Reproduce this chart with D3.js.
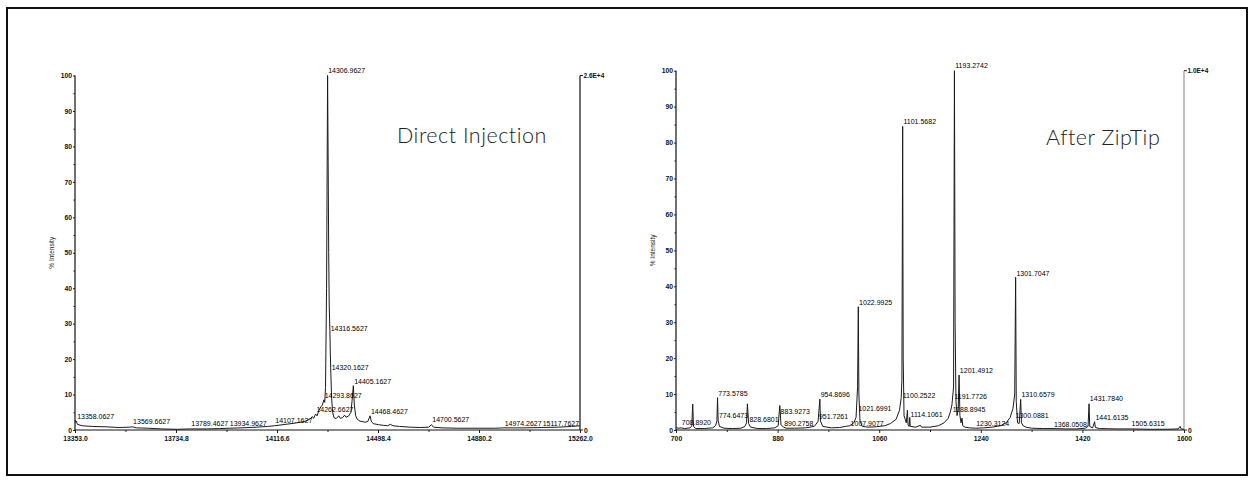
<!DOCTYPE html>
<html><head><meta charset="utf-8">
<script src="https://cdn.jsdelivr.net/npm/d3@7"></script>
<style>
html,body{margin:0;padding:0;background:#fff;}
svg{display:block;}
</style></head>
<body><svg id="c" width="1253" height="483"></svg>
<script>
// ---------- data ----------
const leftTitle = "Direct Injection";
const rightTitle = "After ZipTip";
const yLabel = "% Intensity";
const leftScaleMax = "2.6E+4";
const rightScaleMax = "1.0E+4";

const leftXTicks = [13353.0, 13734.8, 14116.6, 14498.4, 14880.2, 15262.0];
const leftXMinor = [13543.9, 13925.7, 14307.5, 14689.3, 15071.1];
const rightXTicks = [700, 880, 1060, 1240, 1420, 1600];
const rightXMinor = [790, 970, 1150, 1330, 1510];
const yTicks = [0, 10, 20, 30, 40, 50, 60, 70, 80, 90, 100];
const yMinor = [5, 15, 25, 35, 45, 55, 65, 75, 85, 95];

// spectrum trace: [m/z, % intensity]
const leftTrace = [
 [13353,2.8],[13356,2.2],[13358.06,2.5],[13362,1.6],[13380,1.2],[13420,1.0],[13470,0.9],[13520,0.7],
 [13560,0.8],[13569.66,0.9],[13585,0.6],[13630,0.5],[13680,0.3],[13740,0.2],[13789.46,0.3],[13850,0.3],
 [13900,0.4],[13934.96,0.5],[13980,0.6],[14040,0.8],[14080,1.0],[14107.16,1.2],[14150,1.6],[14190,2.0],
 [14220,2.4],[14240,3.0],[14250,3.8],[14255,3.3],[14262.66,4.5],[14268,4.0],[14275,5.5],[14282,6.5],
 [14288,7.0],[14293.86,8.5],[14297,7.8],[14300,12],[14304,40],[14307.8,100],[14310,75],[14312,50],
 [14314,35],[14316.56,28],[14318,22],[14320.16,16],[14323,9],[14327,5],[14332,3.5],[14340,3.2],
 [14350,4],[14356,3.3],[14365,3.5],[14372,4.2],[14378,3.6],[14388,4],[14396,5],[14400,8],
 [14405.16,12.5],[14409,7],[14414,4],[14420,3],[14430,2.5],[14450,2.2],[14460,2.4],[14468.46,4],
 [14473,2.5],[14480,1.8],[14500,1.5],[14520,1.3],[14535,1.2],[14545,1.6],[14555,1.2],[14580,1.0],
 [14620,0.8],[14660,0.7],[14690,0.8],[14700.56,1.5],[14708,0.8],[14740,0.6],[14800,0.5],[14880,0.5],
 [14940,0.5],[14974.26,0.6],[15050,0.6],[15117.76,0.7],[15180,0.8],[15230,1.0],[15262,1.2]
];
// peak labels: [m/z, % intensity at label]
const leftLabels = [
 [13358.0627,2.5],[13569.6627,0.85],[13789.4627,0.3],[13934.9627,0.5],[14107.1627,1.2],
 [14262.6627,4.3],[14293.8627,8.2],[14306.9627,100],[14316.5627,27.3],[14320.1627,16.3],
 [14405.1627,12.3],[14468.4627,3.7],[14700.5627,1.5],[14974.2627,0.3],[15117.7627,0.3]
];

const rightTrace = [
 [700,0.6],[705,0.5],[708.89,0.6],[715,0.4],[725,0.6],[728,1.2],[729.6,7.2],[731,1.0],[735,0.4],
 [750,0.4],[765,0.6],[770,1.2],[772.5,2.5],[773.58,9],[774.65,2.7],[777,1.0],[785,0.5],[800,0.4],
 [815,0.5],[822,1.0],[825,2.0],[826.5,7.3],[828.68,1.8],[832,0.8],[845,0.4],[860,0.4],[875,0.6],
 [881,1.2],[883.93,6.8],[886,1.5],[890.28,0.8],[895,0.5],[910,0.5],[930,0.6],[945,1.0],[951.73,2.4],
 [954.87,8.6],[956,2.5],[960,1.0],[975,0.6],[990,0.7],[1000,1.0],[1007.91,1.2],[1015,2.0],[1019,3.5],
 [1021.7,12],[1022.99,34.3],[1024,10],[1026,2.5],[1030,1.0],[1040,0.8],[1055,0.9],[1070,1.2],
 [1080,1.8],[1090,3.0],[1096,5.5],[1099,9],[1100.25,14],[1101.57,84.5],[1102.5,20],[1104,4],
 [1106,3.0],[1108,2.0],[1110,5.5],[1111,1.5],[1113,1.0],[1114.11,3.5],[1115,1.0],[1125,0.8],
 [1133,1.3],[1135,0.8],[1150,0.8],[1165,1.2],[1175,2.0],[1182,3.2],[1186,5],[1188.89,7],
 [1191.77,12],[1193.27,100],[1194.5,30],[1196,8],[1198,4],[1200,6],[1201.49,15.3],[1203,4],
 [1205,2],[1206.7,3.3],[1208,1.2],[1212,0.8],[1220,0.6],[1230.31,0.5],[1245,0.6],[1260,0.8],
 [1275,1.2],[1285,2.0],[1292,3.5],[1297,6],[1300.09,10],[1301.7,42.5],[1302.8,8],[1305,2],
 [1308,1.8],[1310.66,8.5],[1312,2],[1315,1.2],[1320,0.8],[1330,0.5],[1350,0.4],[1368.05,0.4],
 [1390,0.3],[1410,0.3],[1425,0.5],[1430,1],[1431.78,7.3],[1433,1],[1438,0.6],[1441.61,2.3],
 [1443,0.7],[1450,0.4],[1480,0.3],[1505.63,0.3],[1540,0.2],[1570,0.2],[1590,0.3],[1593,1.0],
 [1595,0.3],[1600,0.2]
];
const rightLabels = [
 [708.8920,0.6],[773.5785,8.7],[774.6473,2.7],[828.6801,1.5],[883.9273,3.8],[890.2758,0.3],
 [954.8696,8.4],[951.7261,2.4],[1022.9925,34],[1021.6991,4.5],[1007.9077,0.3],[1101.5682,84.4],
 [1100.2522,8.2],[1114.1061,2.9],[1193.2742,100],[1201.4912,15.1],[1191.7726,8.0],[1188.8945,4.3],
 [1230.3124,0.3],[1301.7047,42.3],[1310.6579,8.4],[1300.0881,2.6],[1368.0508,0.1],[1431.7840,7.3],
 [1441.6135,2.2],[1505.6315,0.3]
];

// ---------- drawing ----------
const svg = d3.select("#c");
svg.append("rect").attr("x",7).attr("y",8).attr("width",1240).attr("height",467)
  .attr("fill","none").attr("stroke","#111").attr("stroke-width",2);

const tickFont = "'Liberation Sans', Arial, sans-serif";

function panel(cfg){
  const x = d3.scaleLinear().domain(cfg.xDomain).range([cfg.x0, cfg.x1]);
  const y = d3.scaleLinear().domain([0,100]).range([cfg.yBottom, cfg.yTop]);
  const g = svg.append("g");

  // y axis
  const ya = g.append("g").attr("transform",`translate(${cfg.x0},0)`)
    .call(d3.axisLeft(y).tickValues(yTicks).tickSize(2).tickPadding(1).tickFormat(d3.format("d")));
  ya.selectAll("text").attr("font-size",6.8).attr("font-weight","bold").attr("font-family",tickFont).attr("fill","#111");
  const yam = g.append("g").attr("transform",`translate(${cfg.x0},0)`)
    .call(d3.axisLeft(y).tickValues(yMinor).tickSize(1.5).tickFormat(""));
  [ya,yam].forEach(a=>{a.select(".domain").remove(); a.selectAll("line").attr("stroke","#222");});

  // x axis
  const xa = g.append("g").attr("transform",`translate(0,${cfg.yBottom})`)
    .call(d3.axisBottom(x).tickValues(cfg.xTicks).tickSize(3).tickPadding(3).tickFormat(cfg.xFmt));
  xa.selectAll("text").attr("font-size",6.8).attr("font-weight","bold").attr("font-family",tickFont).attr("fill","#111");
  const xam = g.append("g").attr("transform",`translate(0,${cfg.yBottom})`)
    .call(d3.axisBottom(x).tickValues(cfg.xMinor).tickSize(2).tickFormat(""));
  [xa,xam].forEach(a=>{a.select(".domain").remove(); a.selectAll("line").attr("stroke","#222");});

  // axis lines
  g.append("line").attr("x1",cfg.x0).attr("x2",cfg.x0).attr("y1",y(100)).attr("y2",y(0)).attr("stroke","#111").attr("stroke-width",1.2);
  g.append("line").attr("x1",cfg.x0).attr("x2",cfg.x1).attr("y1",y(0)).attr("y2",y(0)).attr("stroke","#111").attr("stroke-width",1);
  g.append("line").attr("x1",cfg.x1).attr("x2",cfg.x1).attr("y1",y(100)).attr("y2",y(0)).attr("stroke",cfg.rightAxisColor).attr("stroke-width",1.2);
  // right axis ticks + labels
  g.append("line").attr("x1",cfg.x1).attr("x2",cfg.x1+3).attr("y1",y(100)).attr("y2",y(100)).attr("stroke","#222");
  g.append("line").attr("x1",cfg.x1).attr("x2",cfg.x1+3).attr("y1",y(0)).attr("y2",y(0)).attr("stroke","#222");
  g.append("text").attr("x",cfg.x1+3.5).attr("y",y(100)+2).text(cfg.scaleMax)
    .attr("font-size",6.5).attr("font-weight","bold").attr("font-family",tickFont).attr("fill","#111");
  g.append("text").attr("x",cfg.x1+4).attr("y",y(0)+2.5).text("0")
    .attr("font-size",6.8).attr("font-weight","bold").attr("font-family",tickFont).attr("fill","#111");

  // y label
  g.append("text").attr("transform",`translate(${cfg.x0-21},${(y(0)+y(100))/2}) rotate(-90)`)
    .attr("text-anchor","middle").text(yLabel)
    .attr("font-size",6.5).attr("font-family",tickFont).attr("fill","#222");

  // trace
  const line = d3.line().x(d=>x(d[0])).y(d=>y(d[1]));
  g.append("path").datum(cfg.trace).attr("d",line).attr("fill","none")
    .attr("stroke","#1a1a1a").attr("stroke-width",1).attr("stroke-linejoin","miter");

  // peak labels
  g.selectAll("text.pk").data(cfg.labels).join("text").attr("class","pk")
    .attr("x",d=>x(d[0])+0.8).attr("y",d=>y(d[1])-2.5)
    .text(d=>d[0].toFixed(4))
    .attr("font-size",7).attr("font-family",tickFont).attr("fill","#000");

  // title
  g.append("text").attr("x",cfg.titleX).attr("y",cfg.titleY).text(cfg.title)
    .attr("font-size",21.5).attr("letter-spacing",0.5)
    .attr("font-family","'Lato','Open Sans',sans-serif").attr("font-weight",300)
    .attr("fill","#222");
}

panel({xDomain:[13353,15262], x0:75, x1:580, yTop:75.5, yBottom:430,
  xTicks:leftXTicks, xMinor:leftXMinor, xFmt:d=>d.toFixed(1), trace:leftTrace, labels:leftLabels,
  scaleMax:leftScaleMax, rightAxisColor:"#111", title:leftTitle, titleX:397, titleY:143});
panel({xDomain:[700,1600], x0:676, x1:1184, yTop:70.7, yBottom:430,
  xTicks:rightXTicks, xMinor:rightXMinor, xFmt:d3.format("d"), trace:rightTrace, labels:rightLabels,
  scaleMax:rightScaleMax, rightAxisColor:"#999", title:rightTitle, titleX:1046, titleY:145});
</script></body></html>
